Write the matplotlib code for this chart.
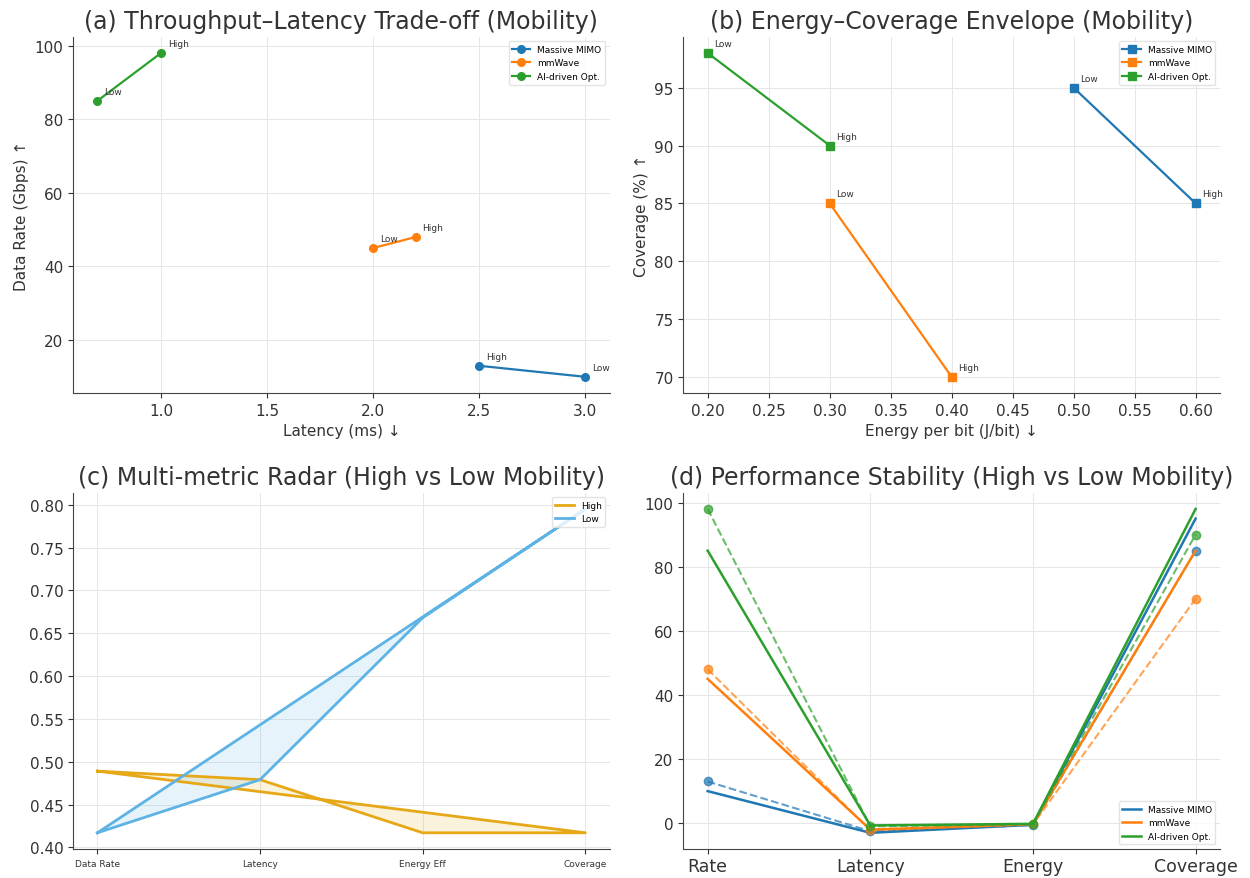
import matplotlib
matplotlib.use("Agg")
import matplotlib.pyplot as plt
import numpy as np

plt.rcParams['font.family'] = ['DejaVu Sans']

techs = ["Massive MIMO", "mmWave", "AI-driven Opt."]
colors = ["#1f77b4", "#ff7f0e", "#2ca02c"]

# High / Low mobility values per technology
rate_high = [13, 48, 98]
rate_low = [10, 45, 85]
lat_high = [2.5, 2.2, 1.0]
lat_low = [3.0, 2.0, 0.7]
energy_high = [0.6, 0.4, 0.3]
energy_low = [0.5, 0.3, 0.2]
cov_high = [85, 70, 90]
cov_low = [95, 85, 98]

radar_labels = ["Data Rate", "Latency", "Energy Eff", "Coverage"]
radar_high = [0.489, 0.479, 0.417, 0.417]
radar_low = [0.417, 0.479, 0.668, 0.795]

stab_labels = ["Rate", "Latency", "Energy", "Coverage"]

fig = plt.figure(figsize=(12.5, 8.79), dpi=100)
axs = fig.subplots(2, 2)
fig.subplots_adjust(left=0.0584, right=0.976, top=0.957, bottom=0.033,
                    wspace=0.137, hspace=0.28)

def style(ax):
    ax.grid(True, color="#e6e6e6", linewidth=0.7)
    ax.set_axisbelow(True)
    for s in ["top", "right"]:
        ax.spines[s].set_visible(False)
    for s in ["left", "bottom"]:
        ax.spines[s].set_color("#444444")
    ax.tick_params(colors="#333333", labelsize=11)

title_fs = 17
lab_fs = 11

# (a)
ax = axs[0, 0]
style(ax)
for i, t in enumerate(techs):
    ax.plot([lat_high[i], lat_low[i]], [rate_high[i], rate_low[i]], marker="o",
            color=colors[i], label=t, linewidth=1.6, markersize=5.5)
    ax.annotate("High", (lat_high[i], rate_high[i]), xytext=(5, 5),
                textcoords="offset points", fontsize=6.5, color="#333333")
    ax.annotate("Low", (lat_low[i], rate_low[i]), xytext=(5, 5),
                textcoords="offset points", fontsize=6.5, color="#333333")
ax.set_title("(a) Throughput–Latency Trade-off (Mobility)", fontsize=title_fs, color="#333333")
ax.set_xlabel("Latency (ms) ↓", fontsize=lab_fs, color="#333333")
ax.set_ylabel("Data Rate (Gbps) ↑", fontsize=lab_fs, color="#333333")
ax.legend(fontsize=6.5, loc="upper right", edgecolor="#dddddd")

# (b)
ax = axs[0, 1]
style(ax)
for i, t in enumerate(techs):
    ax.plot([energy_low[i], energy_high[i]], [cov_low[i], cov_high[i]], marker="s",
            color=colors[i], label=t, linewidth=1.6, markersize=5.5)
    ax.annotate("High", (energy_high[i], cov_high[i]), xytext=(5, 5),
                textcoords="offset points", fontsize=6.5, color="#333333")
    ax.annotate("Low", (energy_low[i], cov_low[i]), xytext=(5, 5),
                textcoords="offset points", fontsize=6.5, color="#333333")
ax.set_title("(b) Energy–Coverage Envelope (Mobility)", fontsize=title_fs, color="#333333")
ax.set_xlabel("Energy per bit (J/bit) ↓", fontsize=lab_fs, color="#333333")
ax.set_ylabel("Coverage (%) ↑", fontsize=lab_fs, color="#333333")
ax.set_xticks(np.arange(0.20, 0.601, 0.05))
ax.legend(fontsize=6.5, loc="upper right", edgecolor="#dddddd")

# (c)
ax = axs[1, 0]
style(ax)
xpos = list(range(len(radar_labels)))
xc = xpos + [xpos[0]]
hc = radar_high + [radar_high[0]]
lc = radar_low + [radar_low[0]]
ax.plot(xc, hc, color="#E6A817", linewidth=2, label="High")
ax.fill(xc, hc, color="#E6A817", alpha=0.15)
ax.plot(xc, lc, color="#5DB3E3", linewidth=2, label="Low")
ax.fill(xc, lc, color="#5DB3E3", alpha=0.15)
ax.set_xticks(xpos)
ax.set_xticklabels(radar_labels, fontsize=6.5)
ax.set_title("(c) Multi-metric Radar (High vs Low Mobility)", fontsize=title_fs, color="#333333")
ax.legend(fontsize=6.5, loc="upper right", edgecolor="#dddddd")

# (d)
ax = axs[1, 1]
style(ax)
sx = list(range(len(stab_labels)))
for i, t in enumerate(techs):
    low_vals = [rate_low[i], -lat_low[i], -energy_low[i], cov_low[i]]
    high_vals = [rate_high[i], -lat_high[i], -energy_high[i], cov_high[i]]
    ax.plot(sx, low_vals, color=colors[i], linewidth=1.8, label=t)
    ax.plot(sx, high_vals, color=colors[i], linewidth=1.5, linestyle="--",
            marker="o", markersize=6, alpha=0.7)
ax.set_xticks(sx)
ax.set_xticklabels(stab_labels, fontsize=12.5)
ax.tick_params(axis="x", pad=2)
ax.set_title("(d) Performance Stability (High vs Low Mobility)", fontsize=title_fs, color="#333333")
ax.legend(fontsize=6.5, loc="lower right", edgecolor="#dddddd")

fig.savefig("out.png", dpi=100)
